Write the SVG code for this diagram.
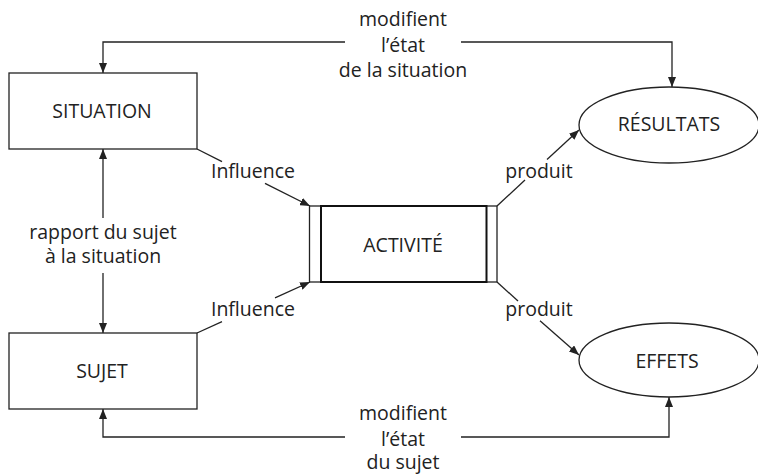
<svg xmlns="http://www.w3.org/2000/svg" width="758" height="475" viewBox="0 0 758 475">
<style>
text{font-family:"Open Sans","Noto Sans",sans-serif;font-size:19.5px;fill:#222;text-anchor:middle}
.b{fill:#fff;stroke:#222;stroke-width:1.3}
.c{fill:none;stroke:#222;stroke-width:1.3}
</style>
<defs>
<marker id="ah" viewBox="0 0 10 8" refX="10" refY="4" markerWidth="10" markerHeight="8" markerUnits="userSpaceOnUse" orient="auto">
<path d="M0,0 L10,4 L0,8 Z" fill="#222"/>
</marker>
</defs>
<rect width="758" height="475" fill="#fff"/>
<g id="connectors">
<path class="c" d="M345,42 H103 V73" marker-end="url(#ah)"/>
<path class="c" d="M461,42 H672 V87" marker-end="url(#ah)"/>
<path class="c" d="M103,218 V149" marker-end="url(#ah)"/>
<path class="c" d="M103,273 V333" marker-end="url(#ah)"/>
<path class="c" d="M345,437 H103 V409" marker-end="url(#ah)"/>
<path class="c" d="M461,437 H669 V397" marker-end="url(#ah)"/>
<path class="c" d="M197,149 L222,161.6"/>
<path class="c" d="M265,183.3 L310,206" marker-end="url(#ah)"/>
<path class="c" d="M197,333 L222,321.7"/>
<path class="c" d="M275,297.8 L310,282" marker-end="url(#ah)"/>
<path class="c" d="M497,206 L525,180"/>
<path class="c" d="M547,159.6 L579,130" marker-end="url(#ah)"/>
<path class="c" d="M497,282 L518,301"/>
<path class="c" d="M540,320.7 L579,355" marker-end="url(#ah)"/>
<text x="253" y="178">Influence</text>
<text x="253" y="316">Influence</text>
<text x="539" y="178">produit</text>
<text x="539" y="316">produit</text>
<text x="103" y="239">rapport du sujet</text>
<text x="103" y="263">à la situation</text>
<text x="403" y="26">modifient</text>
<text x="403" y="52">l’état</text>
<text x="403" y="77">de la situation</text>
<text x="403" y="420">modifient</text>
<text x="403" y="446">l’état</text>
<text x="403" y="469">du sujet</text>
</g>
<g id="situation">
<rect class="b" x="9" y="73" width="188" height="76"/>
<text x="102" y="118">SITUATION</text>
</g>
<g id="sujet">
<rect class="b" x="9" y="333" width="188" height="76"/>
<text x="102" y="378">SUJET</text>
</g>
<g id="activite">
<rect class="b" x="309.5" y="206" width="187.5" height="76"/>
<rect x="321" y="206" width="165.5" height="76" fill="none" stroke="#111" stroke-width="2"/>
<text x="403" y="252">ACTIVITÉ</text>
</g>
<g id="resultats">
<ellipse class="b" cx="669" cy="125" rx="90" ry="38"/>
<text x="669" y="131">RÉSULTATS</text>
</g>
<g id="effets">
<ellipse class="b" cx="669" cy="360" rx="90" ry="37"/>
<text x="667" y="368">EFFETS</text>
</g>
</svg>
